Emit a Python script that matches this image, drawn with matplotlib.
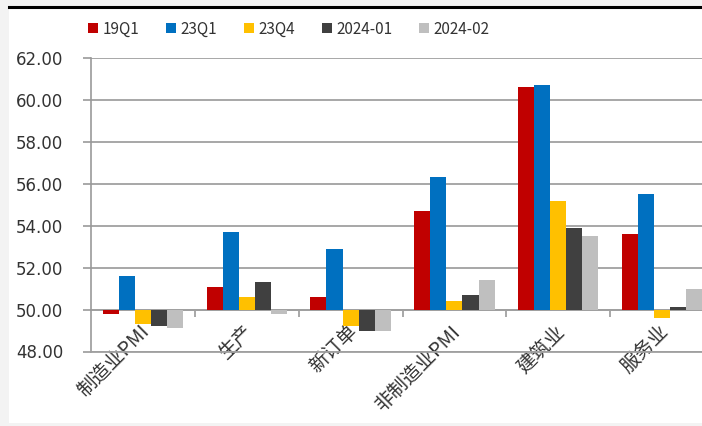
import numpy as np
import matplotlib.pyplot as plt
import matplotlib.transforms as mtransforms
from matplotlib.patches import Rectangle
from matplotlib.lines import Line2D

plt.rcParams['font.family'] = ['Noto Sans CJK SC', 'DejaVu Sans']

# 数据
categories = ["制造业PMI", "生产", "新订单", "非制造业PMI", "建筑业", "服务业"]
series_names = ["19Q1", "23Q1", "23Q4", "2024-01", "2024-02"]
v_19q1 = [49.8, 51.1, 50.6, 54.7, 60.6, 53.6]
v_23q1 = [51.6, 53.7, 52.9, 56.3, 60.7, 55.5]
v_23q4 = [49.3, 50.6, 49.2, 50.4, 55.2, 49.6]
v_2401 = [49.2, 51.3, 49.0, 50.7, 53.9, 50.1]
v_2402 = [49.1, 49.8, 49.0, 51.4, 53.5, 51.0]
colors = ["#C00000", "#0070C0", "#FFC000", "#404040", "#BFBFBF"]
base = 50

fig = plt.figure(figsize=(7.02, 4.26), dpi=100)
fig.patch.set_facecolor("#f3f3f3")
# white panel + black top line like the screenshot
fig.patches.append(Rectangle((9 / 702, 3 / 426), 1, 415 / 426, transform=fig.transFigure,
                             facecolor="white", edgecolor="none", zorder=-10))
fig.lines.append(Line2D([9 / 702, 1], [1 - 6.5 / 426, 1 - 6.5 / 426], transform=fig.transFigure,
                        color="black", linewidth=2.2, zorder=-5))

ax = fig.add_axes([91 / 702, 74.5 / 426, 623 / 702, 293.5 / 426])
ax.set_facecolor("none")

x = np.arange(len(categories))
w = 0.155
all_vals = [v_19q1, v_23q1, v_23q4, v_2401, v_2402]
for i, (vals, name, c) in enumerate(zip(all_vals, series_names, colors)):
    heights = [v - base for v in vals]
    ax.bar(x + (i - 2) * w, heights, w, bottom=base, color=c, label=name, zorder=3)

ax.set_xlim(-0.5, len(categories) - 0.5)
ax.set_ylim(48, 62)
ax.set_yticks(np.arange(48, 62.1, 2))
ax.set_yticklabels([f"{t:.2f}" for t in np.arange(48, 62.1, 2)], family="DejaVu Sans")
ax.tick_params(axis="y", length=6, width=1.2, color="#999999", pad=14,
               labelsize=12, labelcolor="#333333")
ax.grid(axis="y", color="#a0a0a0", linewidth=1.3, zorder=1)

for s in ["top", "right"]:
    ax.spines[s].set_visible(False)
ax.spines["left"].set_color("#999999")
ax.spines["left"].set_linewidth(1.2)
ax.spines["bottom"].set_color("#a0a0a0")
ax.spines["bottom"].set_linewidth(1.3)

ax.set_xticks(x)
ax.set_xticklabels(categories, rotation=45, ha="right", rotation_mode="anchor")
ax.tick_params(axis="x", length=0, pad=2, labelsize=14, labelcolor="#333333")
shift = mtransforms.ScaledTranslation(-4 / 100, 33 / 100, fig.dpi_scale_trans)
for lab in ax.get_xticklabels():
    lab.set_transform(lab.get_transform() + shift)

# 50 处的类别轴及分隔刻度
sec = ax.secondary_xaxis((base - 48) / 14)
sec.set_xticks(np.arange(0.5, len(categories) - 0.5, 1))
sec.set_xticklabels([])
sec.tick_params(length=5, width=1.2, color="#999999")
sec.spines["bottom"].set_color("#a0a0a0")
sec.spines["bottom"].set_linewidth(1.3)

leg = fig.legend(loc="center", bbox_to_anchor=(289 / 702, 1 - 29 / 426), ncol=5,
                 frameon=False, fontsize=11, handlelength=0.65, handleheight=0.65,
                 handletextpad=0.3, columnspacing=1.75)
for t in leg.get_texts():
    t.set_color("#333333")

fig.savefig("out.png", dpi=100, facecolor=fig.get_facecolor())
